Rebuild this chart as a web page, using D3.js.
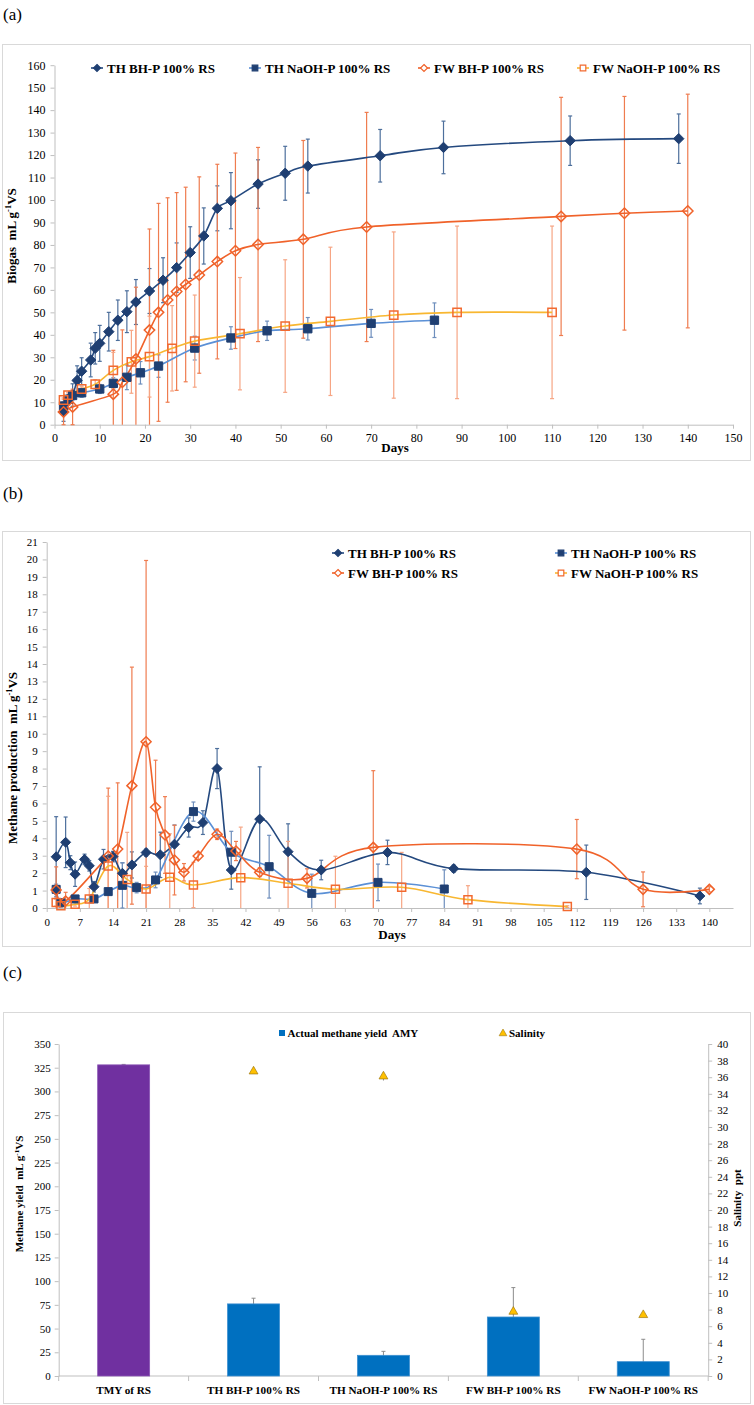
<!DOCTYPE html>
<html>
<head>
<meta charset="utf-8">
<script src="https://cdn.jsdelivr.net/npm/d3@7"></script>
<style>
body { margin: 0; background: #fff; }
svg text { font-family: "Liberation Serif", "Times New Roman", serif; white-space: pre; }
</style>
</head>
<body>
<div id="chart"></div>
<script>
// ---------- data, panel (a): cumulative biogas ----------
var thBhDaysA = [2, 4, 5, 6, 8, 9, 10, 12, 14, 16, 18, 21, 24, 27, 30, 33, 36, 39, 45, 51, 56, 72, 86, 114, 138];
var thBhValsA = [5.7, 13.2, 19.7, 23.8, 28.8, 34, 36.2, 41.4, 46.5, 50.3, 54.6, 59.5, 64.3, 69.9, 76.6, 84, 96.3, 99.7, 107.1, 111.9, 115.1, 119.7, 123.4, 126.4, 127.3];
var thBhErrA = [4.2, 5, 6.5, 6, 7.5, 7, 8, 8.6, 9, 9.3, 10, 10, 10, 11, 11.5, 12.5, 10, 12.5, 10.8, 12, 12, 11.7, 11.7, 11, 11];

var thNaDaysA = [2, 3, 4, 6, 10, 13, 16, 19, 23, 31, 39, 47, 56, 70, 84];
var thNaValsA = [8.3, 11.3, 13, 14.2, 15.9, 18.4, 21.1, 23.1, 26.1, 34.1, 38.6, 41.8, 42.7, 45.1, 46.5];
var thNaErrA = [2, 2, 2, 2, 2, 2.5, 5.5, 5, 5, 5.3, 5, 4.3, 5, 6.2, 7.7];

var fwBhDaysA = [2, 4, 13, 15, 18, 21, 23, 25, 27, 29, 32, 36, 40, 45, 55, 69, 112, 126, 140];
var fwBhValsA = [5.7, 7.9, 13.6, 18.9, 29.2, 42.1, 50, 55.5, 59.3, 62.4, 66.6, 72.6, 77.4, 80.2, 82.5, 88, 92.7, 94.1, 95.1];
var fwBhErrA = [5.7, 7.9, 19.5, 23.3, 32, 45, 48.5, 45.5, 44, 43.3, 43.7, 43.3, 43.5, 43.2, 44, 51, 53, 52, 52];

var fwNaDaysA = [2, 3, 6, 9, 13, 17, 21, 26, 31, 41, 51, 61, 75, 89, 110];
var fwNaValsA = [11, 13.2, 15.9, 18, 24.2, 28, 30.3, 34, 37.2, 40.5, 43.9, 46, 48.8, 50, 50];
var fwNaErrA = [1, 1, 1, 2, 8, 14, 18, 19, 20.5, 25, 29.5, 33, 37, 38.4, 38.4];

// ---------- data, panel (b): daily methane ----------
var thBhDaysB = [2, 4, 5, 6, 8, 9, 10, 12, 14, 16, 18, 21, 24, 27, 30, 33, 36, 39, 45, 51, 58, 72, 86, 114, 138];
var thBhValsB = [2.94, 3.77, 2.6, 1.94, 2.79, 2.42, 1.22, 2.8, 2.95, 1.99, 2.47, 3.18, 3.05, 3.66, 4.62, 4.9, 8.0, 2.18, 5.1, 3.23, 2.18, 3.19, 2.26, 2.05, 0.69];
var thBhErrB = [2.3, 1.45, 0.4, 0.7, 0.3, 0.3, 0.3, 0.56, 0.3, 0.6, 0.75, 0.2, 1.3, 1.1, 0.55, 0.68, 1.15, 1.1, 3.0, 1.6, 0.56, 0.7, 0.2, 1.56, 0.45];

var thNaDaysB = [2, 3, 6, 10, 13, 16, 19, 23, 31, 39, 47, 56, 70, 84];
var thNaValsB = [1.07, 0.3, 0.52, 0.52, 0.94, 1.3, 1.17, 1.61, 5.53, 3.2, 2.37, 0.84, 1.47, 1.09];
var thNaErrB = [0.3, 0.15, 0.1, 0.1, 0.1, 1.3, 0.3, 0.45, 0.55, 1.2, 1.8, 1.1, 1.05, 1.1];

var fwBhDaysB = [2, 4, 13, 15, 18, 21, 23, 25, 27, 29, 32, 36, 40, 45, 55, 69, 112, 126, 140];
var fwBhValsB = [1.03, 0.4, 2.98, 3.38, 7.02, 9.54, 5.78, 4.19, 2.75, 2.05, 2.98, 4.23, 3.27, 2.05, 1.7, 3.48, 3.38, 1.07, 1.07];
var fwBhErrB = [1.33, 0.5, 3.9, 3.8, 6.8, 10.4, 2.7, 2.2, 2, 0.5, 0.2, 0.3, 0.55, 0.25, 0.55, 4.4, 1.7, 1.0, 0.15];

var fwNaDaysB = [2, 3, 6, 9, 13, 17, 21, 26, 31, 41, 51, 61, 75, 89, 110];
var fwNaValsB = [0.31, 0.13, 0.21, 0.52, 2.41, 1.64, 1.09, 1.76, 1.32, 1.74, 1.42, 1.07, 1.19, 0.48, 0.08];
var fwNaErrB = [0.2, 0.1, 0.1, 0.6, 4.0, 2.7, 1.3, 2.5, 1.3, 2.9, 2.4, 1.9, 2.0, 0.8, 0.05];

// ---------- data, panel (c): yield and salinity ----------
var categoriesC = ["TMY of RS", "TH BH-P 100% RS", "TH NaOH-P 100% RS", "FW BH-P 100% RS", "FW NaOH-P 100% RS"];
var yieldC = [328, 76, 21.8, 62.2, 15.1];
var yieldErrC = [0.5, 6, 4.2, 31, 23.6];
var salinityC = [null, 36.7, 36.1, 7.75, 7.35];
var salinityErrC = [null, 0.2, 0.5, 0.35, 0.1];

var seriesNames = ["TH BH-P 100% RS", "TH NaOH-P 100% RS", "FW BH-P 100% RS", "FW NaOH-P 100% RS"];

var serif = "'Liberation Serif', 'Times New Roman', serif";
var axisGrey = "#bfbfbf";

// series styles (line colour, marker colour, marker kind, fill, error bar colour)
var styles = [
    { line: "#24497f", mk: "#1f3f72", kind: "diamond", fill: "#1f3f72", err: "#4d6f9c" },
    { line: "#5b90d6", mk: "#1f3f72", kind: "square", fill: "#1f3f72", err: "#6f8fbd" },
    { line: "#f0622a", mk: "#f0622a", kind: "diamond", fill: "none", err: "#ef7c4f" },
    { line: "#f8b731", mk: "#f26a30", kind: "square", fill: "none", err: "#f6a584" }
];

var svg = d3.select("#chart").append("svg")
    .attr("width", 754)
    .attr("height", 1405);

function frame(x, y, w, h) {
    svg.append("rect")
        .attr("x", x).attr("y", y).attr("width", w).attr("height", h)
        .attr("fill", "none").attr("stroke", "#d9d9d9").attr("stroke-width", 1);
}

function panelLabel(txt, x, y) {
    svg.append("text").attr("x", x).attr("y", y)
        .attr("font-size", 17).attr("fill", "#000").text(txt);
}

function markerPath(kind, r) {
    if (kind === "diamond") {
        return "M0," + (-r) + "L" + r + ",0L0," + r + "L" + (-r) + ",0Z";
    }
    var h = r * 0.8;
    return "M" + (-h) + "," + (-h) + "h" + 2 * h + "v" + 2 * h + "h" + (-2 * h) + "Z";
}

function styleAxis(g, size) {
    g.attr("font-family", serif).attr("font-size", size);
    g.selectAll("path.domain").attr("stroke", axisGrey);
    g.selectAll(".tick line").attr("stroke", axisGrey);
    g.selectAll(".tick text").attr("fill", "#000");
}

function rotTitle(x, y, main, size) {
    var t = svg.append("text")
        .attr("transform", "translate(" + x + "," + y + ") rotate(-90)")
        .attr("text-anchor", "middle")
        .attr("font-size", size)
        .attr("font-weight", "bold");
    t.append("tspan").text(main + "mL g");
    t.append("tspan").attr("baseline-shift", "super").attr("font-size", size * 0.65).text("-1");
    t.append("tspan").text("VS");
}

function drawLines(x, y, series, r) {
    var ymin = y.domain()[0];
    var g = svg.append("g");
    // error bars first
    series.forEach(function (s, k) {
        var pts = s.days.map(function (d, i) { return { d: d, v: s.vals[i], e: s.err[i] }; });
        var eg = g.append("g").attr("stroke", styles[k].err).attr("stroke-width", 1.2);
        eg.selectAll("line.bar").data(pts).enter().append("line")
            .attr("x1", function (p) { return x(p.d); })
            .attr("x2", function (p) { return x(p.d); })
            .attr("y1", function (p) { return y(Math.max(ymin, p.v - p.e)); })
            .attr("y2", function (p) { return y(p.v + p.e); });
        eg.selectAll("line.top").data(pts).enter().append("line")
            .attr("x1", function (p) { return x(p.d) - 2; })
            .attr("x2", function (p) { return x(p.d) + 2; })
            .attr("y1", function (p) { return y(p.v + p.e); })
            .attr("y2", function (p) { return y(p.v + p.e); });
        eg.selectAll("line.bot").data(pts.filter(function (p) { return p.v - p.e >= ymin; })).enter().append("line")
            .attr("x1", function (p) { return x(p.d) - 2; })
            .attr("x2", function (p) { return x(p.d) + 2; })
            .attr("y1", function (p) { return y(p.v - p.e); })
            .attr("y2", function (p) { return y(p.v - p.e); });
    });
    // spreadsheet-style smoothing (uniform Catmull-Rom)
    var line = d3.line()
        .curve(d3.curveCatmullRom.alpha(0))
        .x(function (p) { return x(p.d); })
        .y(function (p) { return y(p.v); });
    series.forEach(function (s, k) {
        var pts = s.days.map(function (d, i) { return { d: d, v: s.vals[i] }; });
        g.append("path").datum(pts)
            .attr("d", line)
            .attr("fill", "none")
            .attr("stroke", styles[k].line)
            .attr("stroke-width", 1.6);
    });
    series.forEach(function (s, k) {
        var st = styles[k];
        var pts = s.days.map(function (d, i) { return { d: d, v: s.vals[i] }; });
        g.append("g").selectAll("path").data(pts).enter().append("path")
            .attr("d", markerPath(st.kind, r))
            .attr("transform", function (p) { return "translate(" + x(p.d) + "," + y(p.v) + ")"; })
            .attr("fill", st.fill)
            .attr("stroke", st.mk)
            .attr("stroke-width", st.fill === "none" ? 1.5 : 1);
    });
}

function legendItem(k, x, y, size) {
    var st = styles[k];
    var g = svg.append("g").attr("transform", "translate(" + x + "," + y + ")");
    g.append("line").attr("x1", 0).attr("x2", 12).attr("y1", 0).attr("y2", 0)
        .attr("stroke", st.line).attr("stroke-width", 1.6);
    g.append("path").attr("d", markerPath(st.kind, 3.5))
        .attr("transform", "translate(6,0)")
        .attr("fill", st.fill === "none" ? "#fff" : st.fill)
        .attr("stroke", st.mk).attr("stroke-width", 1.2);
    g.append("text").attr("x", 16).attr("y", size * 0.35)
        .attr("font-size", size).attr("font-weight", "bold").text(seriesNames[k]);
}

// ================= panel (a) =================
panelLabel("(a)", 3, 20);
frame(2.5, 44.5, 748, 416);

var xA = d3.scaleLinear().domain([0, 150]).range([54.5, 733]);
var yA = d3.scaleLinear().domain([0, 160]).range([424.7, 65.2]);

var gAx = svg.append("g").attr("transform", "translate(0," + yA(0) + ")")
    .call(d3.axisBottom(xA).tickValues(d3.range(0, 151, 10)).tickSize(4).tickSizeOuter(0).tickPadding(5));
styleAxis(gAx, 12);
var gAy = svg.append("g").attr("transform", "translate(" + xA(0) + ",0)")
    .call(d3.axisLeft(yA).tickValues(d3.range(0, 161, 10)).tickSize(4).tickSizeOuter(0).tickPadding(5));
styleAxis(gAy, 12);

drawLines(xA, yA, [
    { days: thBhDaysA, vals: thBhValsA, err: thBhErrA },
    { days: thNaDaysA, vals: thNaValsA, err: thNaErrA },
    { days: fwBhDaysA, vals: fwBhValsA, err: fwBhErrA },
    { days: fwNaDaysA, vals: fwNaValsA, err: fwNaErrA }
], 5.2);

rotTitle(16, 236, "Biogas  ", 13);
svg.append("text").attr("x", 395).attr("y", 452).attr("text-anchor", "middle")
    .attr("font-size", 13).attr("font-weight", "bold").text("Days");

legendItem(0, 91, 68, 13);
legendItem(1, 249, 68, 13);
legendItem(2, 418, 68, 13);
legendItem(3, 577, 68, 13);

// ================= panel (b) =================
panelLabel("(b)", 3, 499);
frame(2.5, 531.5, 748, 415);

var xB = d3.scaleLinear().domain([0, 145]).range([46.7, 733]);
var yB = d3.scaleLinear().domain([0, 21]).range([908, 542]);

var gBx = svg.append("g").attr("transform", "translate(0," + yB(0) + ")")
    .call(d3.axisBottom(xB).tickValues(d3.range(0, 141, 7)).tickSize(4).tickSizeOuter(0).tickPadding(6));
styleAxis(gBx, 11);
var gBy = svg.append("g").attr("transform", "translate(" + xB(0) + ",0)")
    .call(d3.axisLeft(yB).tickValues(d3.range(0, 22, 1)).tickSize(4).tickSizeOuter(0).tickPadding(5));
styleAxis(gBy, 11);

drawLines(xB, yB, [
    { days: thBhDaysB, vals: thBhValsB, err: thBhErrB },
    { days: thNaDaysB, vals: thNaValsB, err: thNaErrB },
    { days: fwBhDaysB, vals: fwBhValsB, err: fwBhErrB },
    { days: fwNaDaysB, vals: fwNaValsB, err: fwNaErrB }
], 5);

rotTitle(17, 758, "Methane production  ", 13);
svg.append("text").attr("x", 392).attr("y", 939).attr("text-anchor", "middle")
    .attr("font-size", 13).attr("font-weight", "bold").text("Days");

legendItem(0, 332, 553, 13);
legendItem(1, 555, 553, 13);
legendItem(2, 332, 573, 13);
legendItem(3, 555, 573, 13);

// ================= panel (c) =================
panelLabel("(c)", 3, 978);
frame(3.5, 1012.5, 747, 391);

var xC = d3.scaleBand().domain(categoriesC).range([58.7, 708.2]).paddingInner(0.6).paddingOuter(0.3);
var yC = d3.scaleLinear().domain([0, 350]).range([1376, 1044]);
var yS = d3.scaleLinear().domain([0, 40]).range([1376, 1044]);

var gCy = svg.append("g").attr("transform", "translate(58.7,0)")
    .call(d3.axisLeft(yC).tickValues(d3.range(0, 351, 25)).tickSize(4).tickSizeOuter(0).tickPadding(4));
styleAxis(gCy, 11);
var gCr = svg.append("g").attr("transform", "translate(708.2,0)")
    .call(d3.axisRight(yS).tickValues(d3.range(0, 41, 2)).tickSize(4).tickSizeOuter(0).tickPadding(5));
styleAxis(gCr, 11);

// category axis with ticks between bands
var gCx = svg.append("g");
gCx.append("line").attr("x1", 58.7).attr("x2", 708.2).attr("y1", yC(0)).attr("y2", yC(0))
    .attr("stroke", axisGrey);
gCx.selectAll("line.sep").data(d3.range(0, categoriesC.length + 1)).enter().append("line")
    .attr("x1", function (i) { return xC.range()[0] + i * xC.step(); })
    .attr("x2", function (i) { return xC.range()[0] + i * xC.step(); })
    .attr("y1", yC(0)).attr("y2", yC(0) + 5)
    .attr("stroke", axisGrey);
gCx.selectAll("text").data(categoriesC).enter().append("text")
    .attr("x", function (d) { return xC(d) + xC.bandwidth() / 2; })
    .attr("y", yC(0) + 18)
    .attr("text-anchor", "middle")
    .attr("font-size", 11.2).attr("font-weight", "bold")
    .text(function (d) { return d; });

var barData = categoriesC.map(function (c, i) {
    return { c: c, v: yieldC[i], e: yieldErrC[i], s: salinityC[i], se: salinityErrC[i], i: i };
});

// error bars behind the columns
var gErr = svg.append("g").attr("stroke", "#8c8c8c").attr("stroke-width", 1);
gErr.selectAll("line.v").data(barData).enter().append("line")
    .attr("x1", function (d) { return xC(d.c) + xC.bandwidth() / 2; })
    .attr("x2", function (d) { return xC(d.c) + xC.bandwidth() / 2; })
    .attr("y1", function (d) { return yC(Math.max(0, d.v - d.e)); })
    .attr("y2", function (d) { return yC(d.v + d.e); });
gErr.selectAll("line.c").data(barData).enter().append("line")
    .attr("x1", function (d) { return xC(d.c) + xC.bandwidth() / 2 - 2; })
    .attr("x2", function (d) { return xC(d.c) + xC.bandwidth() / 2 + 2; })
    .attr("y1", function (d) { return yC(d.v + d.e); })
    .attr("y2", function (d) { return yC(d.v + d.e); });

svg.append("g").selectAll("rect").data(barData).enter().append("rect")
    .attr("x", function (d) { return xC(d.c); })
    .attr("width", xC.bandwidth())
    .attr("y", function (d) { return yC(d.v); })
    .attr("height", function (d) { return yC(0) - yC(d.v); })
    .attr("fill", function (d) { return d.i === 0 ? "#7030a0" : "#0070c0"; })
    .attr("stroke", function (d) { return d.i === 0 ? "#8a55b5" : "#3d8fd0"; })
    .attr("stroke-width", 0.8);

var salData = barData.filter(function (d) { return d.s !== null; });
var gSal = svg.append("g");
gSal.selectAll("line").data(salData).enter().append("line")
    .attr("x1", function (d) { return xC(d.c) + xC.bandwidth() / 2; })
    .attr("x2", function (d) { return xC(d.c) + xC.bandwidth() / 2; })
    .attr("y1", function (d) { return yS(d.s - d.se); })
    .attr("y2", function (d) { return yS(d.s + d.se); })
    .attr("stroke", "#8c8c8c");
gSal.selectAll("path").data(salData).enter().append("path")
    .attr("d", d3.symbol(d3.symbolTriangle, 34))
    .attr("transform", function (d) { return "translate(" + (xC(d.c) + xC.bandwidth() / 2) + "," + yS(d.s) + ")"; })
    .attr("fill", "#ffc000")
    .attr("stroke", "#a07a10")
    .attr("stroke-width", 0.7);

rotTitle(23, 1194, "Methane yield  ", 11);
svg.append("text")
    .attr("transform", "translate(741,1198) rotate(-90)")
    .attr("text-anchor", "middle")
    .attr("font-size", 11).attr("font-weight", "bold")
    .text("Salinity  ppt");

// legend (c)
svg.append("rect").attr("x", 279).attr("y", 1030).attr("width", 6).attr("height", 6).attr("fill", "#0070c0");
svg.append("text").attr("x", 287.5).attr("y", 1037).attr("font-size", 11).attr("font-weight", "bold")
    .text("Actual methane yield  AMY");
svg.append("path").attr("d", d3.symbol(d3.symbolTriangle, 26))
    .attr("transform", "translate(503,1033.5)")
    .attr("fill", "#ffc000").attr("stroke", "#a07a10").attr("stroke-width", 0.6);
svg.append("text").attr("x", 509).attr("y", 1037).attr("font-size", 11).attr("font-weight", "bold")
    .text("Salinity");
</script>
</body>
</html>
